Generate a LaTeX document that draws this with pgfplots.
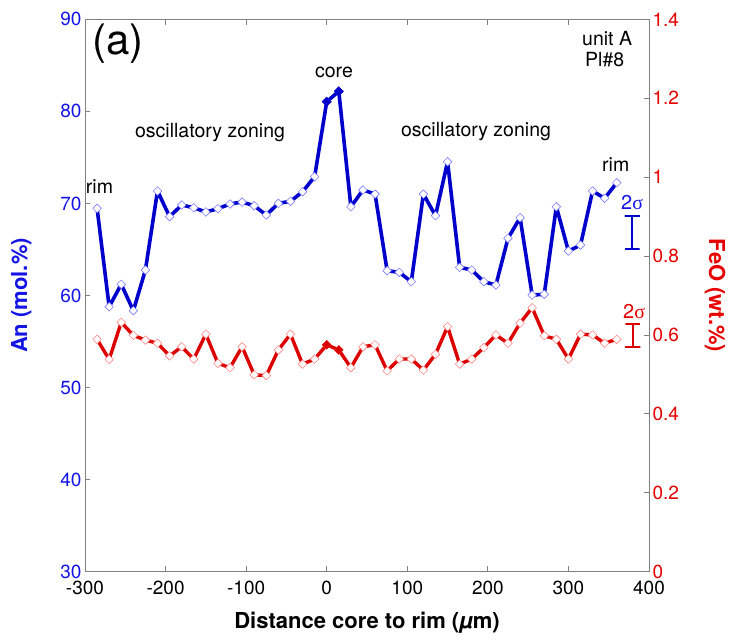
\documentclass[border=0pt]{standalone}
\usepackage{fontspec}
\setmainfont{TeX Gyre Heros}
\newfontfamily\sigmafont{Liberation Serif}
\usepackage{pgfplots}
\usepackage{pgfplotstable}
\pgfplotsset{compat=1.18}

\definecolor{blueL}{RGB}{0,0,205}
\definecolor{blueM}{RGB}{125,125,255}
\definecolor{blueT}{RGB}{20,20,230}
\definecolor{redL}{RGB}{220,0,0}
\definecolor{redM}{RGB}{255,135,135}
\definecolor{redT}{RGB}{230,0,0}
\definecolor{axgray}{RGB}{128,128,128}

\newcommand{\tickfont}{\fontsize{19}{22}\selectfont}
\newcommand{\labfont}{\fontsize{22}{26}\selectfont\bfseries}
\newcommand{\annfont}{\fontsize{19.5}{23}\selectfont}

\pgfplotstableread{
x an
-285 69.47
-270 58.78
-255 61.22
-240 58.35
-225 62.77
-210 71.35
-195 68.56
-180 69.83
-165 69.53
-150 69.07
-135 69.43
-120 69.94
-105 70.15
-90 69.75
-75 68.74
-60 70.01
-45 70.23
-30 71.27
-15 72.90
0 81.05
15 82.18
30 69.64
45 71.46
60 71.02
75 62.69
90 62.52
105 61.50
120 71.02
135 68.67
150 74.53
165 63.06
180 62.77
195 61.50
210 61.14
225 66.21
240 68.45
255 60.05
270 60.13
285 69.64
300 64.83
315 65.48
330 71.35
345 70.56
360 72.25
}\andata

\pgfplotstableread{
x feo
-285 0.589
-270 0.538
-255 0.632
-240 0.599
-225 0.587
-210 0.579
-195 0.547
-180 0.570
-165 0.539
-150 0.602
-135 0.528
-120 0.517
-105 0.570
-90 0.499
-75 0.497
-60 0.562
-45 0.602
-30 0.526
-15 0.539
0 0.575
15 0.562
30 0.517
45 0.570
60 0.575
75 0.509
90 0.539
105 0.539
120 0.511
135 0.551
150 0.621
165 0.526
180 0.539
195 0.568
210 0.600
225 0.579
240 0.630
255 0.669
270 0.598
285 0.589
300 0.539
315 0.602
330 0.600
345 0.579
360 0.589
}\feodata

\begin{document}
\begin{tikzpicture}
\path[use as bounding box] (-85pt,-70.3pt) rectangle (645pt,571.7pt);
\begin{axis}[
  at={(0,0)}, anchor=south west,
  scale only axis, width=564pt, height=552.4pt,
  xmin=-300, xmax=400, ymin=30, ymax=90,
  xtick={-300,-200,-100,0,100,200,300,400},
  ytick={30,40,50,60,70,80,90},
  xtick pos=both, ytick pos=left,
  tick align=inside,
  major tick length=5.5pt,
  axis line style={axgray, line width=0.8pt},
  tick style={axgray, line width=0.8pt},
  /pgf/number format/assume math mode=true,
  tick label style={font=\tickfont},
  yticklabel style={text=blueT},
  xticklabel style={yshift=-6pt},
  xlabel={Distance core to rim (\textit{µ}m)},
  xlabel style={font=\labfont, at={(axis description cs:0.5,-0.092)}, anchor=center},
  ylabel={An (mol.\%)},
  ylabel style={font=\labfont, text=blueT, at={(axis description cs:-0.113,0.5)}, anchor=center},
  clip=false,
]
\addplot[blueL, line width=3.6pt, line join=round, mark=square*, mark size=3.05pt,
  mark options={rotate=45, fill=white, draw=blueM, line width=0.6pt, solid}]
  table[x=x, y=an] {\andata};
\addplot[only marks, mark=square*, mark size=3.3pt,
  mark options={rotate=45, fill=blueL, draw=blueL}]
  coordinates {(0,81.05) (15,82.18)};
% 2 sigma error bar (An)
\addplot[blueL, line width=2pt, mark=none]
  coordinates {(369.7,65.0) (388.3,65.0) (379,65.0) (379,68.6) (369.7,68.6) (388.3,68.6)};

\node[font=\fontsize{42}{46}\selectfont, anchor=center] at (axis cs:-259.3,87.4) {(a)};
\node[font=\annfont, anchor=base] at (axis cs:348,87.2) {unit A};
\node[font=\annfont, anchor=base] at (axis cs:345,84.85) {Pl\#8};
\node[font=\annfont, anchor=base] at (axis cs:9,83.73) {core};
\node[font=\annfont, anchor=base] at (axis cs:-144.8,77.2) {oscillatory zoning};
\node[font=\annfont, anchor=base] at (axis cs:185.3,77.3) {oscillatory zoning};
\node[font=\annfont, anchor=base] at (axis cs:-282,71.13) {rim};
\node[font=\annfont, anchor=base] at (axis cs:358.7,73.44) {rim};
\node[font=\fontsize{20}{24}\selectfont, text=blueT, anchor=base] at (axis cs:379,69.3) {2{\sigmafont σ}};
\node[font=\fontsize{20}{24}\selectfont, text=redT, anchor=base] at (axis cs:381.5,57.45) {2{\sigmafont σ}};
\end{axis}

\begin{axis}[
  at={(0,0)}, anchor=south west,
  scale only axis, width=564pt, height=552.4pt,
  xmin=-300, xmax=400, ymin=0, ymax=1.4,
  axis x line=none, axis y line*=right,
  ytick={0,0.2,0.4,0.6,0.8,1,1.2,1.4},
  tick align=inside,
  major tick length=5.5pt,
  axis line style={axgray, line width=0.8pt, -},
  tick style={axgray, line width=0.8pt},
  /pgf/number format/assume math mode=true,
  tick label style={font=\tickfont},
  yticklabel style={text=redT},
  ylabel={FeO (wt.\%)},
  ylabel style={font=\labfont, text=redT, rotate=180, at={(axis description cs:1.117,0.5)}, anchor=center},
  clip=false,
]
\addplot[redL, line width=3.4pt, line join=round, mark=square*, mark size=3.05pt,
  mark options={rotate=45, fill=white, draw=redM, line width=0.6pt, solid}]
  table[x=x, y=feo] {\feodata};
\addplot[only marks, mark=square*, mark size=3.1pt,
  mark options={rotate=45, fill=redL, draw=redL}]
  coordinates {(0,0.575) (15,0.562)};
% 2 sigma error bar (FeO)
\addplot[redL, line width=2pt, mark=none]
  coordinates {(370.7,0.570) (389.3,0.570) (380,0.570) (380,0.628) (370.7,0.628) (389.3,0.628)};
\end{axis}
\end{tikzpicture}
\end{document}
